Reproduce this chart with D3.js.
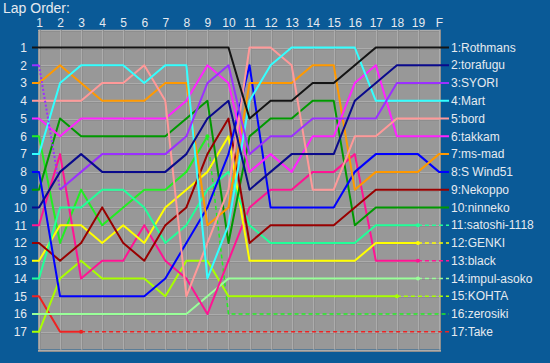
<!DOCTYPE html>
<html><head><meta charset="utf-8">
<script src="https://cdn.jsdelivr.net/npm/d3@7/dist/d3.min.js"></script>
<style>html,body{margin:0;padding:0;background:#0a5a97;}svg{display:block;}</style>
</head><body>
<svg id="chart" width="550" height="363"></svg>
<script>
// ---- data ----
const title = "Lap Order:";
const lapLabels = ["1","2","3","4","5","6","7","8","9","10","11","12","13","14","15","16","17","18","19","F"];
const rowLabels = ["1","2","3","4","5","6","7","8","9","10","11","12","13","14","15","16","17"];
const drivers = ["Rothmans","torafugu","SYORI","Mart","bord","takkam","ms-mad","S Wind51","Nekoppo","ninneko","satoshi-1118","GENKI","black","impul-asoko","KOHTA","zerosiki","Take"];
const finalPos = [1,2,3,4,5,6,7,8,9,10,11,12,13,14,15,16,17];
// positions per completed lap (retired drivers have fewer laps)
const posRothmans = [1,1,1,1,1,1,1,1,1,1,5,4,4,3,3,2,1,1,1,1];
const posTorafugu = [10,8,7,8,8,8,8,7,5,4,9,8,7,7,7,4,3,2,2,2];
const posSyori    = [2,9,8,7,7,7,7,6,3,2,7,6,6,5,5,5,5,3,3,3];
const posMart     = [7,3,2,2,2,3,2,2,14,11,4,2,1,1,1,1,4,4,4,4];
const posBord     = [4,4,4,3,3,2,4,15,12,9,1,1,2,9,9,6,6,5,5,5];
const posTakkam   = [5,6,5,5,5,5,5,4,2,3,8,7,8,6,6,3,2,6,6,6];
const posMsMad    = [3,2,3,4,4,4,3,3,11,10,3,3,3,2,2,9,8,8,8,7];
const posSWind    = [8,15,15,15,15,15,14,12,10,7,2,10,10,10,10,8,7,7,7,8];
const posNekoppo  = [12,13,12,10,12,13,11,10,7,5,12,11,11,11,11,10,9,9,9,9];
const posNinneko  = [9,5,6,6,6,6,6,5,4,12,6,5,5,4,4,11,10,10,10,10];
const posSatoshi  = [14,10,10,9,9,10,12,11,9,8,11,12,12,12,12,12,11,11,11];
const posGenki    = [13,11,11,12,11,12,10,9,8,6,13,13,13,13,13,13,12,12,12];
const posBlack    = [11,7,14,13,13,11,13,14,16,13,10,9,9,8,8,7,13,13,13];
const posImpul    = [16,16,16,16,16,16,16,16,15,14,14,14,14,14,14,14,14,14,14];
const posKohta    = [17,14,13,14,14,14,15,13,13,15,15,15,15,15,15,15,15,15];
const posZerosiki = [6,12,9,11,10,9,9,8,6];
const posTake     = [15,17,17];
const positions = [posRothmans,posTorafugu,posSyori,posMart,posBord,posTakkam,posMsMad,posSWind,posNekoppo,posNinneko,posSatoshi,posGenki,posBlack,posImpul,posKohta,posZerosiki,posTake];
// dotted legs: [driver index, from lap]
const dottedLegs = [[2,1]];
// ---- styles ----
const colors = ["#141414","#0a0a8c","#9b30ff","#33ffff","#ff9999","#ff22ff","#ff9900","#0000ff","#990000","#009900","#22ff99","#ffff00","#ff1493","#99ff99","#a8ff00","#22ee22","#ee2222"];

const W = 550, H = 363;
const svg = d3.select("#chart");
const font = "'Liberation Sans', Arial, sans-serif";
const textCol = "#e6eaf0";

svg.append("rect").attr("width",W).attr("height",H).attr("fill","#0a5a97");

const nLaps = lapLabels.length;
const x = d3.scaleLinear().domain([1,nLaps]).range([39,439]);
const y = d3.scaleLinear().domain([1,17]).range([47.5,331.8]);

// plot background
svg.append("rect")
  .attr("x", x(1)-1).attr("y", y(0))
  .attr("width", x(nLaps)+2-(x(1)-1)).attr("height", y(18)-y(0))
  .attr("fill","#989898");

const grid = svg.append("g");
const rows = d3.range(0,19);
grid.selectAll("line.hl").data(rows).join("line")
  .attr("x1", x(1)-1).attr("x2", x(nLaps)+2)
  .attr("y1", d=>Math.round(y(d))+0.5).attr("y2", d=>Math.round(y(d))+0.5)
  .attr("stroke","#acacac").attr("stroke-width",1);
grid.selectAll("line.hd").data(rows).join("line")
  .attr("x1", x(1)-1).attr("x2", x(nLaps)+2)
  .attr("y1", d=>Math.round(y(d))+1.5).attr("y2", d=>Math.round(y(d))+1.5)
  .attr("stroke","#8e8e8e").attr("stroke-width",1);
const lapIdx = d3.range(1,nLaps+1);
grid.selectAll("line.vl").data(lapIdx).join("line")
  .attr("x1", d=>Math.round(x(d))+0.5).attr("x2", d=>Math.round(x(d))+0.5)
  .attr("y1", y(0)).attr("y2", y(18))
  .attr("stroke","#acacac").attr("stroke-width",1);
grid.selectAll("line.vd").data(lapIdx).join("line")
  .attr("x1", d=>Math.round(x(d))+1.5).attr("x2", d=>Math.round(x(d))+1.5)
  .attr("y1", y(0)).attr("y2", y(18))
  .attr("stroke","#8e8e8e").attr("stroke-width",1);

// axes
const topAxis = d3.axisTop(x).tickValues(lapIdx).tickFormat((d,i)=>lapLabels[i]).tickSize(0).tickPadding(0);
const gTop = svg.append("g").attr("transform",`translate(0,${y(0)-3})`).call(topAxis);
gTop.select(".domain").remove();
gTop.selectAll("text").attr("fill",textCol).style("font-family",font).style("font-size","12px");

const leftAxis = d3.axisLeft(y).tickValues(d3.range(1,18)).tickFormat((d,i)=>rowLabels[i]).tickSize(0).tickPadding(0);
const gLeft = svg.append("g").attr("transform",`translate(27,0)`).call(leftAxis);
gLeft.select(".domain").remove();
gLeft.selectAll("text").attr("fill",textCol).style("font-family",font).style("font-size","12px");

// title
svg.append("text").attr("x",3).attr("y",13).text(title)
  .attr("fill",textCol).style("font-family",font).style("font-size","14px");

// lines
const line = d3.line().x(d=>d[0]).y(d=>d[1]);
const stubL = 7, stubR = 10;
const gl = svg.append("g");
const order = d3.range(drivers.length).reverse();
order.forEach(i=>{
  const p = positions[i];
  const c = colors[i];
  const n = p.length;
  const retired = n < nLaps;
  const dl = dottedLegs.filter(d=>d[0]===i).map(d=>d[1]);
  let seg = [[x(1)-stubL, y(p[0])]];
  for(let k=0;k<n;k++){
    const lap = k+1;
    seg.push([x(lap), y(p[k])]);
    if(dl.includes(lap) && k+1<n){
      gl.append("path").attr("d",line(seg)).attr("fill","none").attr("stroke",c).attr("stroke-width",2).attr("stroke-linejoin","round");
      gl.append("path").attr("d",line([[x(lap),y(p[k])],[x(lap+1),y(p[k+1])]]))
        .attr("fill","none").attr("stroke",c).attr("stroke-width",2).attr("stroke-dasharray","2,2");
      seg = [];
    }
  }
  if(!retired) seg.push([x(nLaps)+stubR, y(p[n-1])]);
  gl.append("path").attr("d",line(seg)).attr("fill","none").attr("stroke",c)
    .attr("stroke-width",2).attr("stroke-linejoin","round");
  if(retired){
    const fp = finalPos[i];
    const dpts = [[x(n),y(p[n-1])],[x(n+1),y(fp)],[x(nLaps)+stubR,y(fp)]];
    gl.append("path").attr("d",line(dpts)).attr("fill","none").attr("stroke",c)
      .attr("stroke-width",1.5).attr("stroke-dasharray","4,3");
    gl.append("circle").attr("cx",x(n)).attr("cy",y(p[n-1])).attr("r",2).attr("fill",c);
  }
});

// right labels
svg.append("g").selectAll("text").data(drivers).join("text")
  .attr("x", x(nLaps)+stubR+2).attr("y",(d,i)=>y(finalPos[i]))
  .attr("dy","0.35em")
  .text((d,i)=>finalPos[i]+":"+d)
  .attr("fill",textCol).style("font-family",font).style("font-size","12px");
</script>
</body></html>
